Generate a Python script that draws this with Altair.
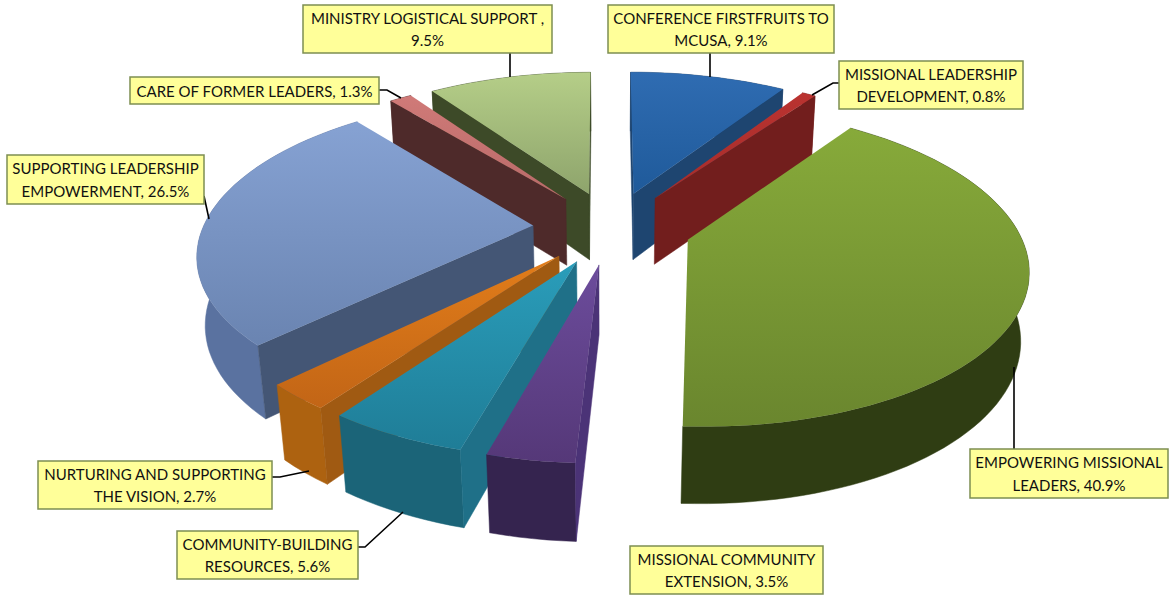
import math
import altair as alt
import pandas as pd

# Budget shares, clockwise from twelve o'clock
shares = [9.1, 0.8, 40.9, 3.5, 5.6, 2.7, 26.5, 1.3, 9.5]
label_lines = [
    ("CONFERENCE FIRSTFRUITS TO", "MCUSA, {}%"),
    ("MISSIONAL LEADERSHIP", "DEVELOPMENT, {}%"),
    ("EMPOWERING MISSIONAL", "LEADERS, {}%"),
    ("MISSIONAL COMMUNITY", "EXTENSION, {}%"),
    ("COMMUNITY-BUILDING", "RESOURCES, {}%"),
    ("NURTURING AND SUPPORTING", "THE VISION, {}%"),
    ("SUPPORTING LEADERSHIP", "EMPOWERMENT, {}%"),
    ("CARE OF FORMER LEADERS, {}%",),
    ("MINISTRY LOGISTICAL SUPPORT ,", "{}%"),
]
# Top-face gradient (upper, lower), cut-wall colour and rim colour per slice
top_colors = [
    ("#2f6cb2", "#1f5a9a"), ("#ba3330", "#a52c2a"), ("#87aa3a", "#6a862e"),
    ("#6c4c9c", "#553878"), ("#2a9dba", "#1f7d97"), ("#e27d1a", "#c26516"),
    ("#86a2d3", "#6a84b1"), ("#d07a78", "#b86a68"), ("#b5ce88", "#8ea46c"),
]
wall_colors = ["#1e4570", "#721e1d", "#2f3d13", "#4b3377", "#1f7088",
               "#a05a12", "#445675", "#4e2a2a", "#3d4a28"]
rim_colors = ["#1e4570", "#721e1d", "#2f3d13", "#35244f", "#1b6478",
              "#ad6210", "#5a72a0", "#4e2a2a", "#3d4a28"]
# Back-to-front drawing sequence
paint_order = [8, 0, 7, 1, 6, 2, 5, 4, 3]

# Annotation boxes as left, top, right, bottom
label_boxes = [
    (608, 5, 834, 53), (839, 61, 1023, 109), (970, 449, 1168, 498),
    (630, 546, 823, 594), (177, 531, 358, 579), (38, 461, 272, 509),
    (7, 155, 204, 204), (130, 77, 379, 104), (303, 5, 552, 53),
]
leaders = [
    [(710, 53), (710, 77)],
    [(812, 95), (833, 83), (839, 83)],
    [(1014, 367), (1014, 449)],
    [],
    [(358, 547), (365, 547), (403, 512)],
    [(272, 477), (280, 477), (309, 471)],
    [(204, 196), (209, 219)],
    [(379, 90), (387, 90), (401, 98)],
    [(510, 53), (510, 77)],
]

# Camera and pie proportions
CX, CY = 612.0, 227.5
FOCAL, DIST = 1782.0, 5.4
SIN_T, COS_T = 0.46, 0.888
EXPLODE = 0.24
THICK = 0.235
STEP = 2.0


def project(x, y, z):
    w = DIST + y * COS_T - z * SIN_T
    v = y * SIN_T + z * COS_T
    return (CX + FOCAL * x / w, CY - FOCAL * v / w)


def polygon(points):
    closed = list(points) + [points[0]]
    return pd.DataFrame(
        {"x": [round(p[0], 1) for p in closed],
         "y": [round(p[1], 1) for p in closed],
         "i": range(len(closed))}
    )


X = alt.X("x:Q", scale=alt.Scale(domain=[0, 1169], nice=False, zero=False), axis=None)
Y = alt.Y("y:Q", scale=alt.Scale(domain=[595, 0], nice=False, zero=False), axis=None)


def face(points, fill, edge, edge_width=0.5):
    return (
        alt.Chart(polygon(points))
        .mark_line(fill=fill, stroke=edge, strokeWidth=edge_width, interpolate="linear")
        .encode(x=X, y=Y, order=alt.Order("i:Q"))
    )


def gradient(upper, lower):
    return alt.Gradient(
        gradient="linear", x1=0, x2=0, y1=0, y2=1,
        stops=[alt.GradientStop(color=upper, offset=0),
               alt.GradientStop(color=lower, offset=1)],
    )


starts = []
running = 0.0
for share in shares:
    starts.append(running)
    running += share * 3.6

layers = []
cam_y, cam_z = -DIST * COS_T, DIST * SIN_T
for k in paint_order:
    a0 = starts[k]
    a1 = a0 + shares[k] * 3.6
    mid = math.radians((a0 + a1) / 2)
    ox, oy = EXPLODE * math.sin(mid), EXPLODE * math.cos(mid)
    count = max(2, int((a1 - a0) / STEP) + 1)
    angles = [math.radians(a0 + (a1 - a0) * n / (count - 1)) for n in range(count)]
    rim = [(ox + math.sin(a), oy + math.cos(a)) for a in angles]
    rim_top = [project(x, y, 0) for x, y in rim]
    rim_bot = [project(x, y, -THICK) for x, y in rim]
    apex_top = project(ox, oy, 0)
    apex_bot = project(ox, oy, -THICK)

    layers.append(face(rim_top + rim_bot[::-1], rim_colors[k], rim_colors[k]))

    # A cut wall is drawn only when its outward side looks at the camera
    walls = [(angles[0], -1, 0), (angles[-1], 1, -1)]
    for a, sign, idx in walls:
        nx, ny = sign * math.cos(a), -sign * math.sin(a)
        if nx * (0 - ox) + ny * (cam_y - oy) > 0:
            layers.append(
                face([apex_top, rim_top[idx], rim_bot[idx], apex_bot],
                     wall_colors[k], wall_colors[k])
            )
    upper, lower = top_colors[k]
    layers.append(face([apex_top] + rim_top, gradient(upper, lower), lower, 0))

rows = []
for n, path in enumerate(leaders):
    for j, (lx, ly) in enumerate(path):
        rows.append({"x": lx, "y": ly, "path": n, "i": j})
leader_layer = (
    alt.Chart(pd.DataFrame(rows))
    .mark_line(color="#000000", strokeWidth=1.6)
    .encode(x=X, y=Y, detail="path:N", order=alt.Order("i:Q"))
)

box_df = pd.DataFrame(label_boxes, columns=["x", "y", "x2", "y2"])
box_layer = (
    alt.Chart(box_df)
    .mark_rect(fill="#ffff99", stroke="#7d8f52", strokeWidth=1.5)
    .encode(x=X, y=Y, x2="x2:Q", y2="y2:Q")
)

text_rows = []
for share, lines, (left, top, right, bottom) in zip(shares, label_lines, label_boxes):
    mid_y = (top + bottom) / 2 + 1
    for j, line in enumerate(lines):
        text_rows.append({
            "x": (left + right) / 2,
            "y": mid_y + (j - (len(lines) - 1) / 2) * 22.5,
            "label": line.format(share),
        })
text_layer = (
    alt.Chart(pd.DataFrame(text_rows))
    .mark_text(font="Lato", fontSize=15, color="#111111", baseline="middle", align="center")
    .encode(x=X, y=Y, text="label:N")
)

chart = (
    alt.layer(*layers, leader_layer, box_layer, text_layer)
    .properties(width=1169, height=595, padding=0,
                autosize=alt.AutoSizeParams(type="none"), background="white")
    .configure_view(stroke=None)
)

chart.save("out.html", embed_options={"renderer": "svg", "actions": False})
